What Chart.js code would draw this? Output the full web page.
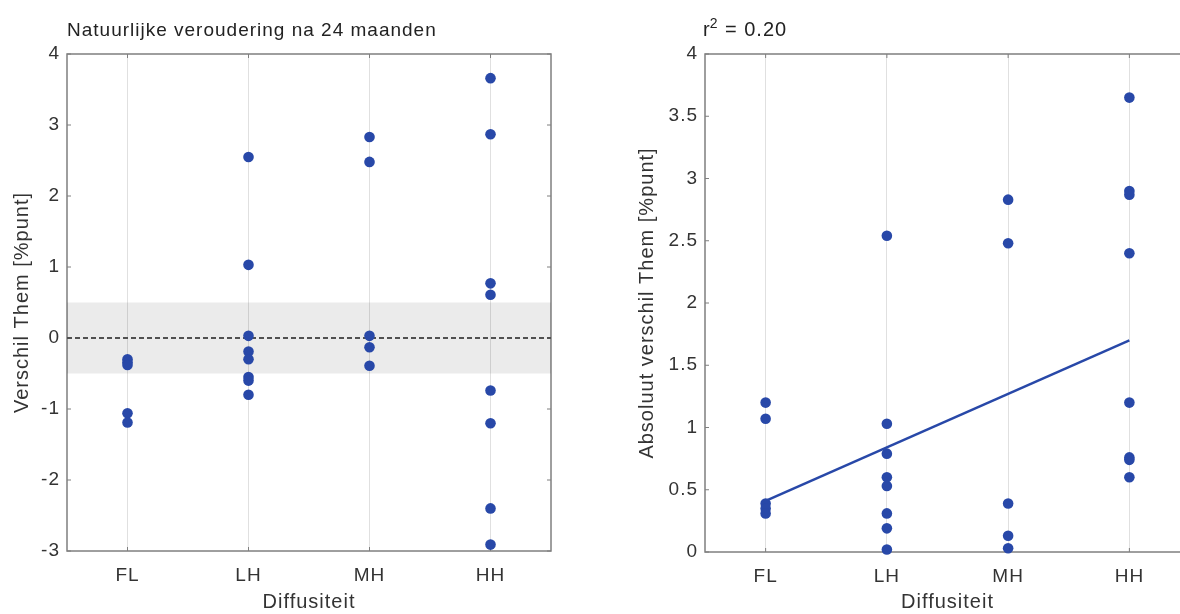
<!DOCTYPE html>
<html>
<head>
<meta charset="utf-8">
<script src="https://cdn.jsdelivr.net/npm/chart.js@4.4.1/dist/chart.umd.min.js"></script>
<style>
  html, body { margin: 0; padding: 0; background: #fff; overflow: hidden; width: 1180px; height: 614px; }
  canvas { position: absolute; top: 0; }
  #chartVerschil { left: 0; }
  #chartAbsoluut { left: 590px; }
</style>
</head>
<body>
<canvas id="chartVerschil" width="580" height="614"></canvas>
<canvas id="chartAbsoluut" width="640" height="614"></canvas>
<script>
// categorieen op de x-as
const categories = ['FL', 'LH', 'MH', 'HH'];

// verschil Them per diffusiteit (links)
const verschilFL = [-0.30, -0.34, -0.38, -1.06, -1.19];
const verschilLH = [2.55, 1.03, 0.03, -0.19, -0.30, -0.55, -0.60, -0.80];
const verschilMH = [2.83, 2.48, 0.03, -0.13, -0.39];
const verschilHH = [3.66, 2.87, 0.77, 0.61, -0.74, -1.20, -2.40, -2.91];

// absoluut verschil Them (rechts)
const absoluutFL = [1.20, 1.07, 0.39, 0.35, 0.31];
const absoluutLH = [2.54, 1.03, 0.79, 0.60, 0.53, 0.31, 0.19, 0.02];
const absoluutMH = [2.83, 2.48, 0.39, 0.13, 0.03];
const absoluutHH = [3.65, 2.90, 2.87, 2.40, 1.20, 0.76, 0.74, 0.60];

// regressielijn
const trendX = [1, 4];
const trendY = [0.41, 1.70];

// grijze band en nullijn
const bandLimits = [-0.5, 0.5];
const zeroLine = 0;

const blue = '#2848a8';
const textColor = '#333';
const fontFamily = '"Liberation Sans", Arial, sans-serif';

function toPoints(groups) {
    let pts = [];
    groups.forEach(function(vals, i) {
        vals.forEach(function(v) {
            pts.push({ x: i + 1, y: v });
        });
    });
    return pts;
}

function hLine(y) {
    return [{ x: 0.5, y: y }, { x: categories.length + 0.5, y: y }];
}

// kader met tickjes en titel boven de grafiek
const framePlugin = {
    id: 'frame',
    beforeDraw(chart) {
        chart.ctx.letterSpacing = '1px';
    },
    beforeDatasetsDraw(chart) {
        const { ctx, chartArea: a, scales } = chart;
        ctx.save();
        ctx.strokeStyle = '#7f7f7f';
        ctx.lineWidth = 1.5;
        ctx.strokeRect(a.left, a.top, a.right - a.left, a.bottom - a.top);
        ctx.lineWidth = 1;
        ctx.beginPath();
        scales.y.ticks.forEach(function(t) {
            const py = scales.y.getPixelForValue(t.value);
            ctx.moveTo(a.left, py); ctx.lineTo(a.left + 4, py);
            ctx.moveTo(a.right, py); ctx.lineTo(a.right - 4, py);
        });
        scales.x.ticks.forEach(function(t) {
            const px = scales.x.getPixelForValue(t.value);
            ctx.moveTo(px, a.top); ctx.lineTo(px, a.top + 4);
            ctx.moveTo(px, a.bottom); ctx.lineTo(px, a.bottom - 4);
        });
        ctx.stroke();
        ctx.restore();
    },
    afterDraw(chart, args, opts) {
        const { ctx, chartArea: a } = chart;
        ctx.save();
        ctx.letterSpacing = '1px';
        ctx.fillStyle = '#222';
        ctx.textBaseline = 'middle';
        ctx.textAlign = 'left';
        let x = a.left + (opts.dx || 0);
        ctx.font = opts.size + 'px ' + fontFamily;
        if (opts.sup) {
            ctx.fillText(opts.text, x, opts.y);
            x += ctx.measureText(opts.text).width - 1;
            ctx.font = Math.round(opts.size * 0.72) + 'px ' + fontFamily;
            ctx.fillText(opts.sup, x, opts.y - 6);
            x += ctx.measureText(opts.sup).width;
            ctx.font = opts.size + 'px ' + fontFamily;
            ctx.fillText(opts.rest, x, opts.y);
        } else {
            ctx.fillText(opts.text, x, opts.y);
        }
        ctx.restore();
    }
};

function createChart(id, datasets, yCfg, layout, title) {
    const ctx = document.getElementById(id).getContext('2d');
    return new Chart(ctx, {
        type: 'scatter',
        data: { datasets: datasets },
        options: {
            responsive: false,
            animation: false,
            layout: { padding: { top: 54, right: layout.right, bottom: 0, left: 0 } },
            plugins: {
                legend: { display: false },
                tooltip: { enabled: false },
                frame: title
            },
            scales: {
                x: {
                    type: 'linear',
                    min: 0.5,
                    max: categories.length + 0.5,
                    afterBuildTicks: function(s) {
                        s.ticks = categories.map(function(c, i) { return { value: i + 1 }; });
                    },
                    afterFit: function(s) { s.height = layout.xHeight; },
                    ticks: {
                        callback: function(v) { return categories[v - 1]; },
                        color: textColor,
                        font: { family: fontFamily, size: 19 },
                        padding: 13
                    },
                    grid: { color: '#e0e0e0', lineWidth: 1, drawTicks: false },
                    border: { display: false },
                    title: {
                        display: true,
                        text: 'Diffusiteit',
                        color: textColor,
                        font: { family: fontFamily, size: 20 },
                        padding: { top: 0, bottom: 0 }
                    }
                },
                y: {
                    min: yCfg.min,
                    max: yCfg.max,
                    afterFit: function(s) { s.width = layout.yWidth; },
                    ticks: {
                        stepSize: yCfg.step,
                        callback: function(v) { return String(v); },
                        color: textColor,
                        font: { family: fontFamily, size: 19 },
                        padding: 7
                    },
                    grid: { display: false, drawTicks: false },
                    border: { display: false },
                    title: {
                        display: true,
                        text: yCfg.label,
                        color: textColor,
                        font: { family: fontFamily, size: 20 },
                        padding: { top: layout.yTitle, bottom: 0 }
                    }
                }
            }
        },
        plugins: [framePlugin]
    });
}

function dots(groups) {
    return {
        data: toPoints(groups),
        backgroundColor: blue,
        borderColor: blue,
        pointRadius: 5.3,
        borderWidth: 0,
        clip: false,
        order: 1
    };
}

createChart('chartVerschil', [
    { type: 'line', data: hLine(bandLimits[0]), borderWidth: 0, pointRadius: 0, fill: false, order: 5 },
    { type: 'line', data: hLine(bandLimits[1]), borderWidth: 0, pointRadius: 0, fill: '-1',
      backgroundColor: 'rgba(0,0,0,0.08)', order: 4 },
    { type: 'line', data: hLine(zeroLine), borderColor: '#505050', borderWidth: 2,
      borderDash: [5, 3], pointRadius: 0, fill: false, order: 3 },
    dots([verschilFL, verschilLH, verschilMH, verschilHH])
], { min: -3, max: 4, step: 1, label: 'Verschil Them [%punt]' },
   { right: 29, xHeight: 63, yWidth: 67, yTitle: 10 },
   { text: 'Natuurlijke veroudering na 24 maanden', size: 19, y: 31, dx: 0 });

createChart('chartAbsoluut', [
    { type: 'line', data: trendX.map(function(x, i) { return { x: x, y: trendY[i] }; }),
      borderColor: blue, borderWidth: 2.5, pointRadius: 0, fill: false, order: 2 },
    dots([absoluutFL, absoluutLH, absoluutMH, absoluutHH])
], { min: 0, max: 4, step: 0.5, label: 'Absoluut verschil Them [%punt]' },
   { right: 40, xHeight: 62, yWidth: 115, yTitle: 45 },
   { text: 'r', sup: '2', rest: ' = 0.20', size: 20, y: 30, dx: -2 });
</script>
</body>
</html>
